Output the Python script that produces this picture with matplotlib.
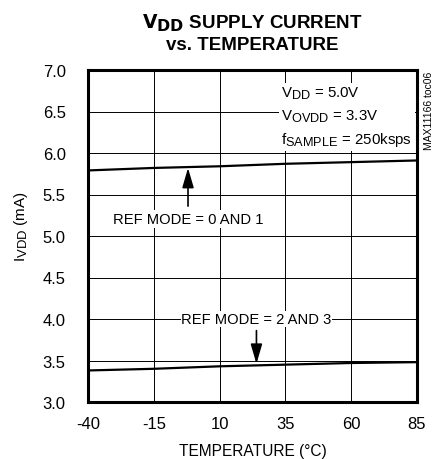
import matplotlib
matplotlib.use("Agg")
import matplotlib.pyplot as plt
import matplotlib._mathtext as mtext

plt.rcParams['font.family'] = ['Liberation Sans', 'DejaVu Sans']
plt.rcParams['mathtext.default'] = 'regular'
plt.rcParams['axes.unicode_minus'] = False
# subscripts in the datasheet are almost full size
mtext.SHRINK_FACTOR = 0.85

temps = [-40, -15, 10, 35, 60, 85]
ref_01 = [5.79, 5.82, 5.84, 5.87, 5.89, 5.91]
ref_23 = [3.38, 3.40, 3.43, 3.45, 3.47, 3.48]
x_ticks = [-40, -15, 10, 35, 60, 85]
y_ticks = [3.0, 3.5, 4.0, 4.5, 5.0, 5.5, 6.0, 6.5, 7.0]

fig = plt.figure(figsize=(4.43, 4.6), dpi=100)
ax = fig.add_axes([88 / 443, 1 - 403 / 460, 329 / 443, 332 / 460])

ax.plot(temps, ref_01, color="black", lw=1.6, zorder=3)
ax.plot(temps, ref_23, color="black", lw=1.6, zorder=3)

ax.set_xlim(-40, 85)
ax.set_ylim(3.0, 7.0)
ax.set_xticks(x_ticks)
ax.set_yticks(y_ticks)
ax.set_yticklabels([f"{v:.1f}" for v in y_ticks])
ax.grid(True, color="black", lw=0.7)
ax.tick_params(length=0, labelsize=12)
ax.tick_params(axis="x", pad=10)
ax.tick_params(axis="y", pad=16)
for s in ax.spines.values():
    s.set_linewidth(2.2)
    s.set_zorder(5)

ax.set_xlabel("TEMPERATURE (°C)", fontsize=11.2, labelpad=9)
ax.set_ylabel("$I_{VDD}$ (mA)", fontsize=11)
ax.yaxis.set_label_coords(-0.175, 0.53)
ax.set_title("$\\mathbf{V_{DD}}$ SUPPLY CURRENT\nvs. TEMPERATURE",
             fontsize=13.5, fontweight="bold", pad=15, linespacing=1.25)

ax.text(33.5, 6.44, "$V_{DD}$ = 5.0V\n$V_{OVDD}$ = 3.3V\n$f_{SAMPLE}$ = 250ksps",
        fontsize=10.8, ha="left", va="center", linespacing=1.5,
        bbox=dict(facecolor="white", edgecolor="none", pad=2), zorder=4)

arrow = dict(arrowstyle="-|>,head_width=0.35,head_length=1.2",
             color="black", lw=1.2, shrinkA=0, shrinkB=0)

ax.text(-2, 5.2, "REF MODE = 0 AND 1", fontsize=10.6,
        ha="center", va="center",
        bbox=dict(facecolor="white", edgecolor="none", pad=1.5), zorder=4)
ax.annotate("", xy=(-2, 5.82), xytext=(-2, 5.36), arrowprops=arrow)

ax.text(24, 4.0, "REF MODE = 2 AND 3", fontsize=10.6,
        ha="center", va="center",
        bbox=dict(facecolor="white", edgecolor="none", pad=0.5), zorder=4)
ax.annotate("", xy=(24, 3.46), xytext=(24, 3.86), arrowprops=arrow)

fig.text(429 / 443, 1 - 72 / 460, "MAX11166 toc06", rotation=90, fontsize=7.5,
         ha="center", va="top")

fig.savefig("out.png", dpi=100)
